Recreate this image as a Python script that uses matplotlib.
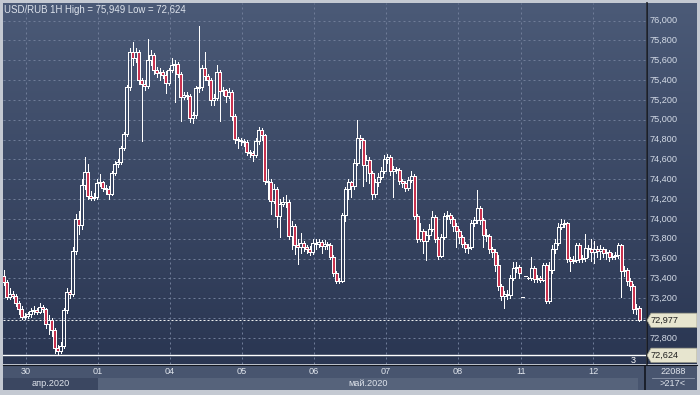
import matplotlib
matplotlib.use('Agg')
import matplotlib.pyplot as plt
import numpy as np
from matplotlib.patches import Rectangle, Polygon
from matplotlib.colors import LinearSegmentedColormap
from matplotlib import transforms

plt.rcParams['font.family'] = ['Liberation Sans', 'DejaVu Sans']

symbol = "USD/RUB 1H"

closes = [
    73.36, 73.21, 73.24, 73.22, 73.15, 73.09, 73.01, 73.02, 73.04, 73.07,
    73.08, 73.06, 73.11, 73.09, 72.94, 72.98, 72.88, 72.70, 72.67, 72.72,
    73.08, 73.26, 73.24, 73.68, 74.00, 73.94, 74.34, 74.47, 74.23, 74.21,
    74.22, 74.36, 74.37, 74.31, 74.30, 74.25, 74.46, 74.55, 74.57, 74.72,
    74.86, 75.33, 75.68, 75.62, 75.68, 75.40, 75.36, 75.34, 75.60, 75.65,
    75.50, 75.47, 75.48, 75.45, 75.37, 75.50, 75.55, 75.56, 75.46, 75.23,
    75.25, 75.24, 75.02, 75.05, 75.32, 75.33, 75.52, 75.44, 75.40, 75.20,
    75.22, 75.48, 75.29, 75.30, 75.24, 75.28, 75.04, 74.81, 74.80, 74.79,
    74.78, 74.67, 74.66, 74.64, 74.79, 74.90, 74.85, 74.38, 74.37, 74.18,
    74.30, 74.03, 74.15, 74.17, 74.17, 73.83, 73.93, 73.74, 73.72, 73.76,
    73.72, 73.70, 73.67, 73.76, 73.75, 73.77, 73.73, 73.75, 73.74, 73.62,
    73.45, 73.37, 73.37, 74.04, 74.30, 74.37, 74.33, 74.56, 74.82, 74.80,
    74.54, 74.59, 74.46, 74.25, 74.37, 74.42, 74.48, 74.60, 74.62, 74.48,
    74.50, 74.49, 74.38, 74.36, 74.31, 74.39, 74.43, 74.03, 73.80, 73.88,
    73.78, 73.84, 73.90, 74.02, 73.80, 73.63, 73.82, 74.03, 74.04, 74.00,
    73.93, 73.88, 73.82, 73.75, 73.71, 73.72, 73.96, 73.99, 74.11, 73.99,
    73.84, 73.83, 73.70, 73.67, 73.53, 73.32, 73.22, 73.24, 73.23, 73.40,
    73.50, 73.51, 73.45, 73.21, 73.42, 73.40, 73.50, 73.39, 73.40, 73.38,
    73.53, 73.17, 73.48, 73.70, 73.76, 73.92, 73.95, 73.96, 73.60, 73.58,
    73.59, 73.74, 73.60, 73.61, 73.71, 73.70, 73.67, 73.70, 73.68, 73.70,
    73.66, 73.67, 73.62, 73.63, 73.64, 73.74, 73.47, 73.48, 73.37, 73.32,
    73.09, 73.10, 72.977,
]

highs = [
    73.48, 73.38, 73.30, 73.27, 73.24, 73.17, 73.12, 73.05, 73.06, 73.10,
    73.12, 73.10, 73.15, 73.13, 73.10, 73.03, 73.00, 72.90, 72.73, 72.76,
    73.10, 73.30, 73.28, 73.72, 74.05, 74.08, 74.40, 74.62, 74.55, 74.28,
    74.26, 74.40, 74.45, 74.38, 74.34, 74.33, 74.48, 74.58, 74.60, 74.74,
    74.88, 75.35, 75.72, 75.78, 75.72, 75.70, 75.42, 75.40, 75.81, 75.70,
    75.67, 75.53, 75.52, 75.50, 75.49, 75.52, 75.62, 75.60, 75.58, 75.48,
    75.28, 75.28, 75.26, 75.08, 75.34, 75.949, 75.55, 75.68, 75.46, 75.42,
    75.26, 75.55, 75.50, 75.33, 75.31, 75.32, 75.30, 75.06, 74.83, 74.82,
    74.81, 74.80, 74.69, 74.68, 74.82, 74.93, 74.92, 74.86, 74.50, 74.40,
    74.35, 74.32, 74.20, 74.22, 74.24, 74.19, 73.98, 73.95, 73.80, 73.86,
    73.78, 73.74, 73.73, 73.80, 73.80, 73.80, 73.79, 73.79, 73.77, 73.76,
    73.64, 73.47, 73.40, 74.06, 74.32, 74.40, 74.38, 74.60, 75.00, 74.85,
    74.82, 74.64, 74.62, 74.48, 74.40, 74.46, 74.52, 74.64, 74.65, 74.64,
    74.53, 74.52, 74.51, 74.40, 74.38, 74.42, 74.48, 74.45, 74.05, 73.96,
    73.90, 73.88, 73.95, 74.08, 74.04, 73.82, 73.85, 74.06, 74.08, 74.06,
    74.02, 73.96, 73.90, 73.84, 73.77, 73.75, 73.99, 74.02, 74.29, 74.13,
    74.01, 73.90, 73.85, 73.72, 73.70, 73.64, 73.34, 73.27, 73.28, 73.43,
    73.57, 73.56, 73.53, 73.21, 73.42, 73.41, 73.62, 73.52, 73.43, 73.42,
    73.55, 73.55, 73.56, 73.74, 73.80, 73.96, 74.00, 73.99, 73.97, 73.62,
    73.63, 73.76, 73.76, 73.64, 73.85, 73.74, 73.80, 73.78, 73.73, 73.74,
    73.72, 73.70, 73.69, 73.66, 73.67, 73.76, 73.75, 73.52, 73.50, 73.40,
    73.34, 73.14, 73.12,
]

lows = [
    73.33, 73.19, 73.19, 73.20, 73.12, 73.04, 72.99, 72.99, 73.00, 73.01,
    73.04, 73.04, 73.05, 73.06, 72.90, 72.84, 72.82, 72.65, 72.624, 72.65,
    72.70, 73.05, 73.20, 73.22, 73.65, 73.85, 73.90, 74.30, 74.20, 74.19,
    74.19, 74.20, 74.33, 74.28, 74.25, 74.20, 74.24, 74.44, 74.52, 74.55,
    74.70, 74.84, 75.30, 75.55, 75.58, 75.36, 74.79, 75.30, 75.32, 75.55,
    75.46, 75.43, 75.40, 75.42, 75.27, 75.35, 75.48, 75.18, 75.43, 74.99,
    75.21, 75.21, 74.98, 74.97, 75.02, 75.28, 75.30, 75.40, 75.35, 75.15,
    75.15, 75.20, 74.99, 75.25, 75.18, 75.22, 75.00, 74.77, 74.72, 74.75,
    74.74, 74.64, 74.62, 74.58, 74.62, 74.76, 74.80, 74.35, 74.20, 74.05,
    74.16, 73.92, 73.82, 74.13, 74.12, 73.80, 73.70, 73.65, 73.54, 73.66,
    73.68, 73.66, 73.64, 73.65, 73.70, 73.72, 73.66, 73.70, 73.70, 73.60,
    73.42, 73.35, 73.35, 73.36, 73.98, 74.20, 74.22, 74.30, 74.54, 74.72,
    74.33, 74.38, 74.36, 74.20, 74.22, 74.33, 74.40, 74.46, 74.56, 74.44,
    74.22, 74.46, 74.35, 74.32, 74.28, 74.29, 74.37, 74.00, 73.77, 73.78,
    73.66, 73.59, 73.80, 73.88, 73.77, 73.60, 73.62, 73.80, 74.00, 73.96,
    73.88, 73.72, 73.76, 73.72, 73.67, 73.66, 73.70, 73.93, 73.96, 73.95,
    73.72, 73.78, 73.66, 73.62, 73.47, 73.28, 73.18, 73.10, 73.19, 73.20,
    73.38, 73.46, 73.40, 73.21, 73.42, 73.39, 73.38, 73.36, 73.36, 73.36,
    73.37, 73.15, 73.15, 73.45, 73.66, 73.74, 73.90, 73.92, 73.56, 73.47,
    73.55, 73.57, 73.57, 73.57, 73.58, 73.62, 73.58, 73.55, 73.62, 73.60,
    73.62, 73.60, 73.58, 73.60, 73.60, 73.61, 73.21, 73.42, 73.33, 73.28,
    73.05, 73.04, 72.97,
]

first_open = 73.42
open_gaps = {173: 73.21, 174: 73.42, 175: 73.40, 176: 73.40}

day_starts = [8, 32, 56, 80, 104, 128, 152, 173, 197]
day_labels = ['30', '01', '04', '05', '06', '07', '08', '11', '12']
month_labels = ['апр.2020', 'май.2020']
month_starts = [0, 32]

price_ticks = [72.8, 73.0, 73.2, 73.4, 73.6, 73.8, 74.0, 74.2, 74.4,
               74.6, 74.8, 75.0, 75.2, 75.4, 75.6, 75.8, 76.0]
bars_count_label = ">217<"
volume_label = "22088"
corner_mark = "3"

# ---------------------------------------------------------------------------
closes = np.array(closes)
highs = np.array(highs)
lows = np.array(lows)
opens = np.concatenate([[first_open], closes[:-1]])
for k, v in open_gaps.items():
    opens[k] = v
n = len(closes)
xs = np.arange(n)

def fmt(v):
    return f"{v:.3f}".replace('.', ',')

W, H = 700, 395
fig = plt.figure(figsize=(W / 100, H / 100), dpi=100)
fig.patch.set_facecolor('#c4c9d2')

def pxrect(x0, y0, x1, y1):
    return [x0 / W, 1 - y1 / H, (x1 - x0) / W, (y1 - y0) / H]

ax = fig.add_axes(pxrect(3, 3, 646, 364))
axr = fig.add_axes(pxrect(647, 3, 697, 364))
axb = fig.add_axes(pxrect(3, 365, 697, 390))

xlim = (-0.17, 214.17)
ylim = (72.536, 76.178)
ax.set_xlim(*xlim)
ax.set_ylim(*ylim)

grad = LinearSegmentedColormap.from_list('g', ['#4b5a77', '#2a3652'])
gimg = np.linspace(0, 1, 256).reshape(-1, 1)
ax.imshow(gimg, cmap=grad, extent=[xlim[0], xlim[1], ylim[0], ylim[1]],
          aspect='auto', origin='upper', zorder=0)

grid_c = '#6f7c98'
for p in price_ticks:
    ax.axhline(p, color=grid_c, lw=0.72, ls=(0, (2, 3)), zorder=1)
for d in day_starts:
    ax.axvline(d - 0.5, color=grid_c, lw=0.72, ls=(0, (2, 3)), zorder=1)

PX = 0.72  # one pixel in points
top = np.maximum(opens, closes)
bot = np.minimum(opens, closes)
hi = np.maximum(highs, top)
lo = np.minimum(lows, bot)
ax.vlines(xs, top, hi, color='white', lw=PX, zorder=3, antialiased=False)
ax.vlines(xs, lo, bot, color='white', lw=PX, zorder=3, antialiased=False)
face = ['#c8324f' if c < o else 'none' for o, c in zip(opens, closes)]
ax.bar(xs, top - bot, bottom=bot, width=0.8, color=face, edgecolor='white',
       linewidth=PX, zorder=4, antialiased=False)

last = closes[-1]
low_v = lows.min()
high_v = highs.max()
ax.axhline(last, color='#f0f0f0', lw=PX, ls=(0, (2, 2)), zorder=5)
ax.axhline(low_v, color='white', lw=1.0, zorder=5)
ax.text(n - 3, low_v - 0.01, corner_mark, color='white', fontsize=6.6,
        ha='center', va='top', zorder=6)

for s in ax.spines.values():
    s.set_visible(False)
ax.set_xticks([])
ax.set_yticks([])

fig.text(4 / W, 1 - 5 / H, f"{symbol} High = {fmt(high_v)} Low = {fmt(low_v)}",
         color='#dde3ec', fontsize=6.9, ha='left', va='top')

# right price panel
axr.set_xlim(0, 50)
axr.set_ylim(*ylim)
axr.imshow(gimg, cmap=grad, extent=[0, 50, ylim[0], ylim[1]],
           aspect='auto', origin='upper', zorder=0)
tag_h = 0.072
tags = (last, low_v)
for p in price_ticks:
    if any(abs(p - t) < 2 * tag_h for t in tags):
        continue
    axr.text(2.5, p, fmt(p), color='#d3dae6', fontsize=6.6, ha='left',
             va='center', zorder=2)
for v in tags:
    axr.add_patch(Polygon([[0, v], [4, v + tag_h], [50, v + tag_h],
                           [50, v - tag_h], [4, v - tag_h]], closed=True,
                          facecolor='#e7e5cf', edgecolor='#9a9a88', lw=0.5,
                          zorder=3))
    axr.text(3.5, v, fmt(v), color='#1e1e1e', fontsize=6.6, ha='left',
             va='center', zorder=4)
for s in axr.spines.values():
    s.set_visible(False)
axr.spines['left'].set_visible(True)
axr.spines['left'].set_color('#12161f')
axr.spines['left'].set_linewidth(1.2)
axr.set_xticks([])
axr.set_yticks([])

# bottom time panel
axb.set_xlim(3, 697)
axb.set_ylim(25, 0)
axb.set_facecolor('#48556f')
bt = transforms.blended_transform_factory(ax.transData, axb.transData)
mend = [month_starts[1], n - 1.5]
mcol = ['#3b4761', '#56637b']
for i, (lab, ms) in enumerate(zip(month_labels, month_starts)):
    x0 = xlim[0] if i == 0 else ms - 0.5
    x1 = mend[i] - 0.5 if i == 0 else mend[i]
    axb.add_patch(Rectangle((x0, 13), x1 - x0, 12, transform=bt,
                            facecolor=mcol[i], edgecolor='none', zorder=1))
    axb.text((x0 + x1) / 2, 19, lab, transform=bt, color='#dfe4ec',
             fontsize=6.6, ha='center', va='center', zorder=3)
for d, lab in zip(day_starts, day_labels):
    axb.text(d - 0.5, 6.5, lab, transform=bt, color='#dfe4ec', fontsize=6.6,
             ha='center', va='center', zorder=3)
axb.add_patch(Rectangle((643, 0), 54, 25, facecolor='#48556f',
                        edgecolor='none', zorder=2))
axb.axvline(645.5, color='#12161f', lw=1.2, zorder=4)
axb.plot([652, 694], [13, 13], color='#8e99ad', lw=0.6, zorder=4)
axb.text(673, 6.5, volume_label, color='#dfe4ec', fontsize=6.6,
         ha='center', va='center', zorder=5)
axb.text(673, 19, bars_count_label, color='#dfe4ec', fontsize=6.6,
         ha='center', va='center', zorder=5)
for s in axb.spines.values():
    s.set_visible(False)
axb.spines['top'].set_visible(True)
axb.spines['top'].set_color('#12161f')
axb.set_xticks([])
axb.set_yticks([])

fig.savefig('out.png', dpi=100, facecolor=fig.get_facecolor())
